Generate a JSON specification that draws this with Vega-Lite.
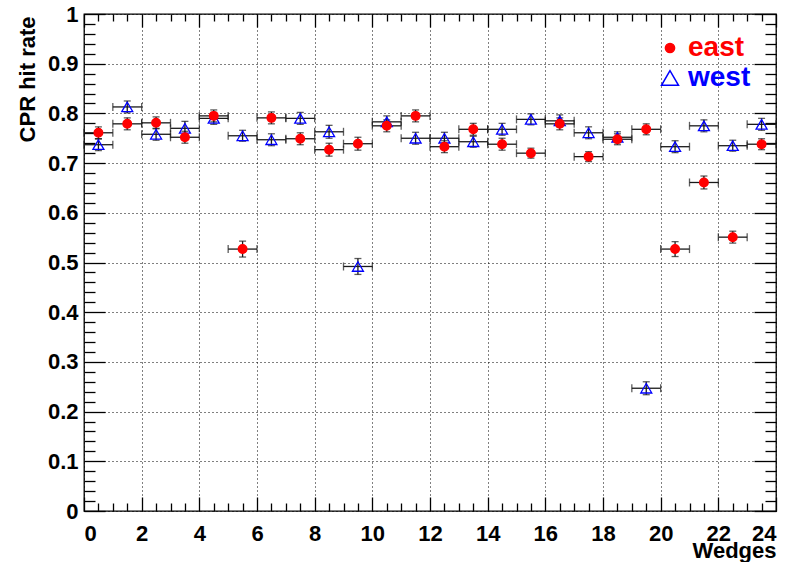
{
  "$schema": "https://vega.github.io/schema/vega-lite/v6.json",
  "width": 692,
  "height": 497,
  "autosize": {"type": "none"},
  "padding": {"left": 84, "top": 14, "right": 16, "bottom": 51},
  "background": "white",
  "data": {
    "values": [
      {"wedge": 0.5, "lo": 0, "hi": 1, "series": "east", "rate": 0.761, "err": 0.012},
      {"wedge": 1.5, "lo": 1, "hi": 2, "series": "east", "rate": 0.779, "err": 0.012},
      {"wedge": 2.5, "lo": 2, "hi": 3, "series": "east", "rate": 0.781, "err": 0.012},
      {"wedge": 3.5, "lo": 3, "hi": 4, "series": "east", "rate": 0.752, "err": 0.012},
      {"wedge": 4.5, "lo": 4, "hi": 5, "series": "east", "rate": 0.795, "err": 0.012},
      {"wedge": 5.5, "lo": 5, "hi": 6, "series": "east", "rate": 0.527, "err": 0.016},
      {"wedge": 6.5, "lo": 6, "hi": 7, "series": "east", "rate": 0.791, "err": 0.012},
      {"wedge": 7.5, "lo": 7, "hi": 8, "series": "east", "rate": 0.749, "err": 0.012},
      {"wedge": 8.5, "lo": 8, "hi": 9, "series": "east", "rate": 0.727, "err": 0.013},
      {"wedge": 9.5, "lo": 9, "hi": 10, "series": "east", "rate": 0.739, "err": 0.013},
      {"wedge": 10.5, "lo": 10, "hi": 11, "series": "east", "rate": 0.775, "err": 0.012},
      {"wedge": 11.5, "lo": 11, "hi": 12, "series": "east", "rate": 0.795, "err": 0.012},
      {"wedge": 12.5, "lo": 12, "hi": 13, "series": "east", "rate": 0.733, "err": 0.012},
      {"wedge": 13.5, "lo": 13, "hi": 14, "series": "east", "rate": 0.768, "err": 0.012},
      {"wedge": 14.5, "lo": 14, "hi": 15, "series": "east", "rate": 0.738, "err": 0.012},
      {"wedge": 15.5, "lo": 15, "hi": 16, "series": "east", "rate": 0.720, "err": 0.010},
      {"wedge": 16.5, "lo": 16, "hi": 17, "series": "east", "rate": 0.779, "err": 0.012},
      {"wedge": 17.5, "lo": 17, "hi": 18, "series": "east", "rate": 0.713, "err": 0.010},
      {"wedge": 18.5, "lo": 18, "hi": 19, "series": "east", "rate": 0.748, "err": 0.011},
      {"wedge": 19.5, "lo": 19, "hi": 20, "series": "east", "rate": 0.768, "err": 0.011},
      {"wedge": 20.5, "lo": 20, "hi": 21, "series": "east", "rate": 0.527, "err": 0.015},
      {"wedge": 21.5, "lo": 21, "hi": 22, "series": "east", "rate": 0.661, "err": 0.013},
      {"wedge": 22.5, "lo": 22, "hi": 23, "series": "east", "rate": 0.551, "err": 0.012},
      {"wedge": 23.5, "lo": 23, "hi": 24, "series": "east", "rate": 0.738, "err": 0.011},
      {"wedge": 0.5, "lo": 0, "hi": 1, "series": "west", "rate": 0.737, "err": 0.012},
      {"wedge": 1.5, "lo": 1, "hi": 2, "series": "west", "rate": 0.813, "err": 0.012},
      {"wedge": 2.5, "lo": 2, "hi": 3, "series": "west", "rate": 0.758, "err": 0.012},
      {"wedge": 3.5, "lo": 3, "hi": 4, "series": "west", "rate": 0.770, "err": 0.014},
      {"wedge": 4.5, "lo": 4, "hi": 5, "series": "west", "rate": 0.790, "err": 0.012},
      {"wedge": 5.5, "lo": 5, "hi": 6, "series": "west", "rate": 0.755, "err": 0.011},
      {"wedge": 6.5, "lo": 6, "hi": 7, "series": "west", "rate": 0.747, "err": 0.012},
      {"wedge": 7.5, "lo": 7, "hi": 8, "series": "west", "rate": 0.790, "err": 0.012},
      {"wedge": 8.5, "lo": 8, "hi": 9, "series": "west", "rate": 0.763, "err": 0.013},
      {"wedge": 9.5, "lo": 9, "hi": 10, "series": "west", "rate": 0.492, "err": 0.016},
      {"wedge": 10.5, "lo": 10, "hi": 11, "series": "west", "rate": 0.783, "err": 0.012},
      {"wedge": 11.5, "lo": 11, "hi": 12, "series": "west", "rate": 0.750, "err": 0.012},
      {"wedge": 12.5, "lo": 12, "hi": 13, "series": "west", "rate": 0.750, "err": 0.012},
      {"wedge": 13.5, "lo": 13, "hi": 14, "series": "west", "rate": 0.743, "err": 0.011},
      {"wedge": 14.5, "lo": 14, "hi": 15, "series": "west", "rate": 0.768, "err": 0.012},
      {"wedge": 15.5, "lo": 15, "hi": 16, "series": "west", "rate": 0.788, "err": 0.011},
      {"wedge": 16.5, "lo": 16, "hi": 17, "series": "west", "rate": 0.785, "err": 0.012},
      {"wedge": 17.5, "lo": 17, "hi": 18, "series": "west", "rate": 0.761, "err": 0.012},
      {"wedge": 18.5, "lo": 18, "hi": 19, "series": "west", "rate": 0.752, "err": 0.011},
      {"wedge": 19.5, "lo": 19, "hi": 20, "series": "west", "rate": 0.247, "err": 0.013},
      {"wedge": 20.5, "lo": 20, "hi": 21, "series": "west", "rate": 0.733, "err": 0.012},
      {"wedge": 21.5, "lo": 21, "hi": 22, "series": "west", "rate": 0.775, "err": 0.012},
      {"wedge": 22.5, "lo": 22, "hi": 23, "series": "west", "rate": 0.735, "err": 0.011},
      {"wedge": 23.5, "lo": 23, "hi": 24, "series": "west", "rate": 0.778, "err": 0.012}
    ]
  },
  "resolve": {"axis": {"x": "independent", "y": "independent"}},
  "layer": [
    {
      "transform": [{"filter": "datum.series === 'west'"}],
      "mark": {
        "type": "errorbar",
        "ticks": {"size": 8, "color": "#1a1a1a", "thickness": 1.3},
        "rule": {"color": "#1a1a1a", "strokeWidth": 1.3}
      },
      "encoding": {
        "x": {
          "field": "lo", "type": "quantitative",
          "scale": {"domain": [0, 24], "nice": false, "zero": false},
          "axis": {
            "orient": "top",
            "values": [0,2,4,6,8,10,12,14,16,18,20,22,24],
            "labels": false, "grid": false, "title": null,
            "ticks": true, "offset": -13, "tickSize": 13
          }
        },
        "x2": {"field": "hi"},
        "y": {
          "field": "rate", "type": "quantitative",
          "scale": {"domain": [0, 1], "nice": false},
          "axis": {
            "orient": "right",
            "values": [0,0.1,0.2,0.3,0.4,0.5,0.6,0.7,0.8,0.9,1],
            "labels": false, "grid": false, "title": null,
            "ticks": true, "offset": -22, "tickSize": 22
          }
        }
      }
    },
    {
      "transform": [{"filter": "datum.series === 'east'"}],
      "mark": {
        "type": "errorbar",
        "ticks": {"size": 8, "color": "#1a1a1a", "thickness": 1.3},
        "rule": {"color": "#1a1a1a", "strokeWidth": 1.3}
      },
      "encoding": {
        "x": {
          "field": "lo", "type": "quantitative",
          "scale": {"domain": [0, 24], "nice": false, "zero": false},
          "axis": {
            "orient": "top",
            "values": [0.5,1,1.5,2.5,3,3.5,4.5,5,5.5,6.5,7,7.5,8.5,9,9.5,10.5,11,11.5,12.5,13,13.5,14.5,15,15.5,16.5,17,17.5,18.5,19,19.5,20.5,21,21.5,22.5,23,23.5],
            "labels": false, "grid": false, "title": null,
            "ticks": true, "offset": -7, "tickSize": 7
          }
        },
        "x2": {"field": "hi"},
        "y": {
          "field": "rate", "type": "quantitative",
          "scale": {"domain": [0, 1], "nice": false},
          "axis": {
            "orient": "right",
            "values": [0.02,0.04,0.06,0.08,0.12,0.14,0.16,0.18,0.22,0.24,0.26,0.28,0.32,0.34,0.36,0.38,0.42,0.44,0.46,0.48,0.52,0.54,0.56,0.58,0.62,0.64,0.66,0.68,0.72,0.74,0.76,0.78,0.82,0.84,0.86,0.88,0.92,0.94,0.96,0.98],
            "labels": false, "grid": false, "title": null,
            "ticks": true, "offset": -11, "tickSize": 11
          }
        }
      }
    },
    {
      "mark": {
        "type": "errorbar",
        "ticks": {"size": 7, "color": "#1a1a1a", "thickness": 1.3},
        "rule": {"color": "#1a1a1a", "strokeWidth": 1.3}
      },
      "encoding": {
        "x": {
          "field": "wedge", "type": "quantitative",
          "scale": {"domain": [0, 24], "nice": false, "zero": false},
          "axis": {
            "orient": "bottom",
            "values": [0.5,1,1.5,2.5,3,3.5,4.5,5,5.5,6.5,7,7.5,8.5,9,9.5,10.5,11,11.5,12.5,13,13.5,14.5,15,15.5,16.5,17,17.5,18.5,19,19.5,20.5,21,21.5,22.5,23,23.5],
            "labels": false, "grid": false, "title": null,
            "ticks": true, "offset": -8, "tickSize": 8
          }
        },
        "y": {
          "field": "rate", "type": "quantitative",
          "scale": {"domain": [0, 1], "nice": false},
          "axis": {
            "orient": "left",
            "values": [0.02,0.04,0.06,0.08,0.12,0.14,0.16,0.18,0.22,0.24,0.26,0.28,0.32,0.34,0.36,0.38,0.42,0.44,0.46,0.48,0.52,0.54,0.56,0.58,0.62,0.64,0.66,0.68,0.72,0.74,0.76,0.78,0.82,0.84,0.86,0.88,0.92,0.94,0.96,0.98],
            "labels": false, "grid": false, "title": null,
            "ticks": true, "offset": -11, "tickSize": 11
          }
        },
        "yError": {"field": "err"}
      }
    },
    {
      "mark": {"type": "point", "opacity": 1, "strokeWidth": 1.3},
      "encoding": {
        "x": {
          "field": "wedge", "type": "quantitative",
          "scale": {"domain": [0, 24], "nice": false, "zero": false},
          "axis": {
            "orient": "bottom",
            "title": "Wedges",
            "values": [0,2,4,6,8,10,12,14,16,18,20,22,24],
            "format": "d",
            "ticks": true,
            "offset": -14,
            "tickSize": 14,
            "labelPadding": 12,
            "grid": true,
            "titleAnchor": "end",
            "titleAlign": "right",
            "titleBaseline": "alphabetic",
            "titleX": 692,
            "titleY": 60
          }
        },
        "y": {
          "field": "rate", "type": "quantitative",
          "scale": {"domain": [0, 1], "nice": false},
          "axis": {
            "orient": "left",
            "title": "CPR hit rate",
            "values": [0,0.1,0.2,0.3,0.4,0.5,0.6,0.7,0.8,0.9,1],
            "labelExpr": "format(datum.value, '.1~f')",
            "ticks": true,
            "offset": -21,
            "tickSize": 21,
            "labelPadding": 6,
            "grid": true,
            "titleAngle": -90,
            "titleAnchor": "end",
            "titleAlign": "right",
            "titleBaseline": "middle",
            "titleX": -78,
            "titleY": 2
          }
        },
        "fill": {
          "field": "series", "type": "nominal",
          "scale": {"domain": ["east", "west"], "range": ["#ff0000", "transparent"]},
          "legend": {
            "title": null,
            "orient": "none",
            "legendX": 572,
            "legendY": 20,
            "padding": 0,
            "symbolSize": {"expr": "datum.value === 'east' ? 85 : 289"},
            "symbolStrokeWidth": 1.5,
            "labelFontSize": 28,
            "labelFont": "Liberation Sans",
            "labelFontWeight": "bold",
            "labelColor": {"expr": "datum.value === 'east' ? '#ff0000' : '#0000ff'"},
            "labelOffset": 4,
            "rowPadding": 2
          }
        },
        "shape": {
          "field": "series", "type": "nominal",
          "scale": {"domain": ["east", "west"], "range": ["circle", "triangle-up"]}
        },
        "stroke": {
          "field": "series", "type": "nominal",
          "scale": {"domain": ["east", "west"], "range": ["#ff0000", "#0000ff"]}
        },
        "size": {"condition": {"test": "datum.series === 'east'", "value": 75}, "value": 121},
        "order": {"field": "series", "sort": "descending"}
      }
    }
  ],
  "config": {
    "font": "Liberation Sans",
    "view": {"stroke": "#000000", "strokeWidth": 1.3},
    "axis": {
      "domain": false,
      "tickColor": "#000000",
      "tickWidth": 1.3,
      "gridColor": "#000000",
      "gridDash": [1, 3],
      "gridWidth": 1,
      "gridOpacity": 1,
      "labelFont": "Liberation Sans",
      "labelFontWeight": "bold",
      "labelFontSize": 22,
      "labelColor": "#000000",
      "titleFont": "Liberation Sans",
      "titleFontWeight": "bold",
      "titleFontSize": 22,
      "titleColor": "#000000"
    }
  }
}
